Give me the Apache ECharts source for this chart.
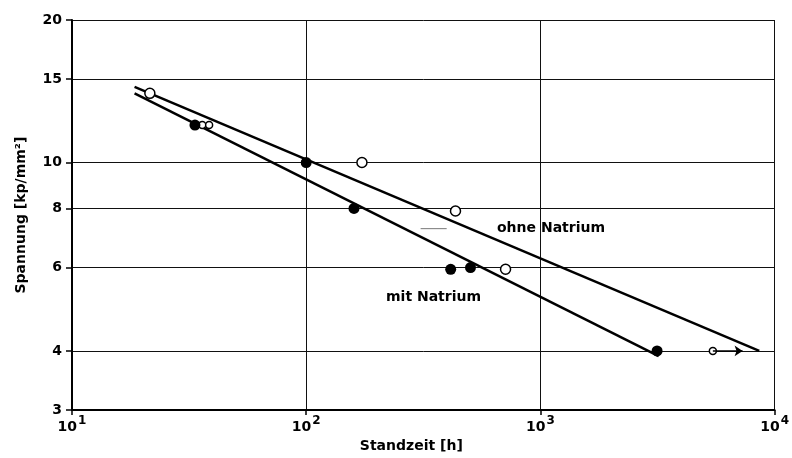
<!DOCTYPE html>
<html>
<head>
<meta charset="utf-8">
<script src="https://cdn.jsdelivr.net/npm/echarts@6/dist/echarts.min.js"></script>
<style>
  html, body { margin: 0; padding: 0; background: #fff; }
  #chart { width: 792px; height: 458px; }
</style>
</head>
<body>
<div id="chart"></div>
<script>
// Werte
var yTicks = [3, 4, 6, 8, 10, 15, 20];
var xTicks = [10, 100, 1000, 10000];

// ohne Natrium: offene Kreise
var ohneGross = [[21.5, 14], [173, 10], [434, 7.9], [710, 5.95]];
var ohneKlein = [[36, 12], [38.5, 12], [5450, 4]];
// mit Natrium: volle Kreise
var mitPunkte = [[33.5, 12], [100, 10], [160, 8], [414, 5.95], [503, 6], [3150, 4]];

// Ausgleichsgeraden
var ohneLinie = [[18.5, 14.45], [8600, 4]];
var mitLinie = [[18.5, 14.0], [3200, 3.9]];

var pfeil = [[5450, 4], [7300, 4]];
var strich = [[308, 7.25], [398, 7.25]];

var font = "DejaVu Sans";

var options = {
  backgroundColor: "#ffffff",
  animation: false,
  grid: { left: 72, right: 14, top: 20, bottom: 47 },
  xAxis: {
    type: "log",
    logBase: 10,
    min: 10,
    max: 10000,
    name: "Standzeit [h]",
    nameLocation: "middle",
    nameGap: 24,
    nameTextStyle: { color: "#000", fontFamily: font, fontSize: 14, fontWeight: "bold", padding: [0, 24, 0, 0] },
    axisLine: { lineStyle: { color: "#000", width: 2 } },
    axisTick: { show: true, length: 5, lineStyle: { color: "#000", width: 1.5 } },
    splitLine: { show: true, lineStyle: { color: "#111", width: 1 } },
    axisLabel: {
      margin: 5,
      formatter: function (v) {
        var e = Math.round(Math.log10(v));
        return "{b|10}{s|" + e + "}";
      },
      rich: {
        b: { fontFamily: font, fontSize: 14, fontWeight: "bold", color: "#000", verticalAlign: "bottom" },
        s: { fontFamily: font, fontSize: 12, fontWeight: "bold", color: "#000", verticalAlign: "bottom", padding: [0, 0, 7, 1] }
      }
    }
  },
  yAxis: {
    type: "log",
    logBase: 10,
    min: 3,
    max: 20,
    name: "Spannung [kp/mm²]",
    nameLocation: "middle",
    nameRotate: 90,
    nameGap: 44,
    nameTextStyle: { color: "#000", fontFamily: font, fontSize: 14, fontWeight: "bold" },
    axisLine: { show: true, lineStyle: { color: "#000", width: 2 } },
    axisTick: { show: true, length: 6, customValues: yTicks, lineStyle: { color: "#000", width: 1.5 } },
    splitLine: { show: true, lineStyle: { color: "#111", width: 1 } },
    axisLabel: {
      customValues: yTicks,
      margin: 10,
      color: "#000",
      fontFamily: font,
      fontSize: 14,
      fontWeight: "bold"
    }
  },
  graphic: [
    { type: "text", left: 497, top: 221, style: { text: "ohne Natrium", fontFamily: font, fontSize: 14, fontWeight: "bold", fill: "#000" } },
    { type: "text", left: 386, top: 290, style: { text: "mit Natrium", fontFamily: font, fontSize: 14, fontWeight: "bold", fill: "#000" } }
  ],
  series: [
    {
      name: "ohne Natrium Linie",
      type: "line",
      data: ohneLinie,
      symbol: "none",
      lineStyle: { color: "#000", width: 2.5 },
      z: 2
    },
    {
      name: "mit Natrium Linie",
      type: "line",
      data: mitLinie,
      symbol: "none",
      lineStyle: { color: "#000", width: 2.5 },
      z: 2
    },
    {
      name: "Strich",
      type: "line",
      data: strich,
      symbol: "none",
      lineStyle: { color: "#777", width: 1 },
      z: 2
    },
    {
      name: "Pfeil",
      type: "line",
      data: [],
      markLine: {
        silent: true,
        symbol: ["none", "arrow"],
        symbolSize: 8,
        label: { show: false },
        lineStyle: { color: "#000", width: 1.5, type: "solid" },
        data: [[{ coord: pfeil[0] }, { coord: pfeil[1] }]]
      }
    },
    {
      name: "ohne Natrium",
      type: "scatter",
      data: ohneGross,
      symbol: "circle",
      symbolSize: 10,
      itemStyle: { color: "#fff", borderColor: "#000", borderWidth: 1.5, opacity: 1 },
      z: 4
    },
    {
      name: "ohne Natrium klein",
      type: "scatter",
      data: ohneKlein,
      symbol: "circle",
      symbolSize: 7,
      itemStyle: { color: "#fff", borderColor: "#000", borderWidth: 1.5, opacity: 1 },
      z: 4
    },
    {
      name: "mit Natrium",
      type: "scatter",
      data: mitPunkte,
      symbol: "circle",
      symbolSize: 11,
      itemStyle: { color: "#000", opacity: 1 },
      z: 5
    }
  ]
};

var chart = echarts.init(document.getElementById("chart"));
chart.setOption(options);
</script>
</body>
</html>
